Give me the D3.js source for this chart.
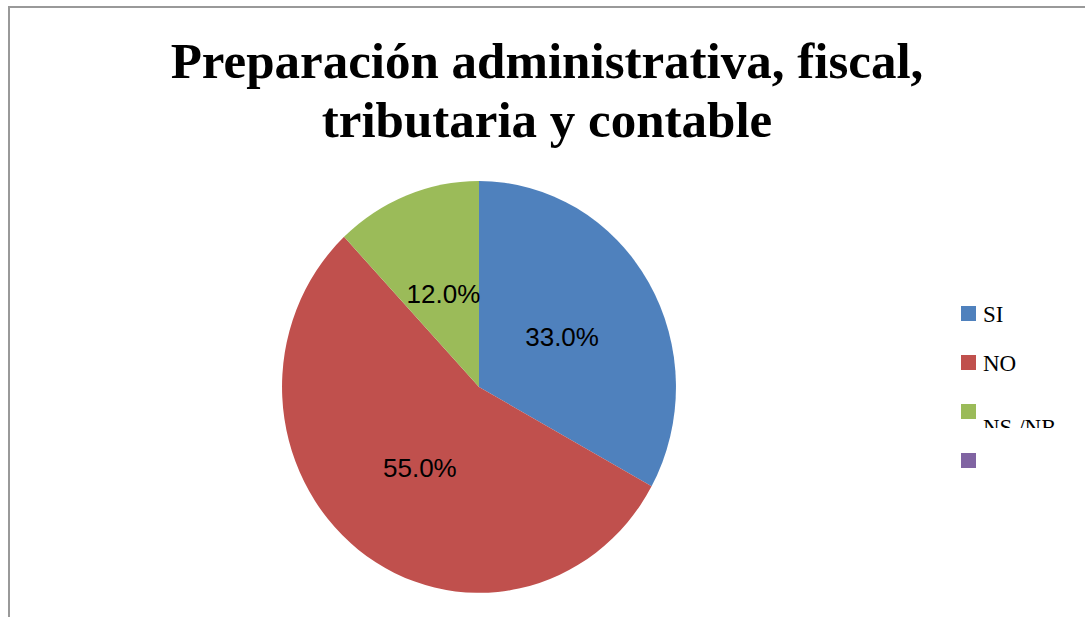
<!doctype html>
<html>
<head>
<meta charset="utf-8"/>
<style>
    html, body { margin: 0; padding: 0; background: #fff; }
    svg { display: block; }
</style>
<script src="https://d3js.org/d3.v7.min.js"></script>
</head>
<body>
<svg width="1085" height="617"></svg>
<script>
    // Chart data
    var categories = ["SI", "NO", "NS /NR", ""];
    var values = [33, 55, 12, 0];
    var colors = ["#4F81BD", "#C0504D", "#9BBB59", "#8064A2"];
    var titleLines = ["Preparación administrativa, fiscal,", "tributaria y contable"];

    var svg = d3.select("svg");

    // Chart frame (runs off right and bottom edge)
    svg.append("rect")
        .attr("x", 9).attr("y", 7)
        .attr("width", 1200).attr("height", 700)
        .attr("fill", "#fff")
        .attr("stroke", "#999").attr("stroke-width", 2);

    // Title
    svg.selectAll(".title")
        .data(titleLines).enter()
        .append("text")
        .attr("class", "title")
        .attr("x", 547)
        .attr("y", function(d, i) { return 78 + i * 59; })
        .attr("text-anchor", "middle")
        .attr("font-family", "Liberation Serif, serif")
        .attr("font-weight", "bold")
        .attr("font-size", 51)
        .text(function(d) { return d; });

    // Pie (slightly taller than wide, as in the picture)
    var cx = 479, cy = 387, rx = 197, ry = 206;
    var data = categories.map(function(c, i) { return {name: c, value: values[i], color: colors[i]}; });
    var pie = d3.pie().sort(null).value(function(d) { return d.value; });
    var arc = d3.arc().innerRadius(0).outerRadius(1);
    var arcs = pie(data).filter(function(d) { return d.data.value > 0; });

    var g = svg.append("g").attr("transform", "translate(" + cx + "," + cy + ")");
    g.selectAll("path")
        .data(arcs).enter()
        .append("path")
        .attr("transform", "scale(" + rx + "," + ry + ")")
        .attr("d", arc)
        .attr("fill", function(d) { return d.data.color; });

    var labelArc = d3.arc().innerRadius(0.49).outerRadius(0.49);
    g.selectAll(".lbl")
        .data(arcs).enter()
        .append("text")
        .attr("class", "lbl")
        .attr("x", function(d) { return labelArc.centroid(d)[0] * rx; })
        .attr("y", function(d) { return labelArc.centroid(d)[1] * ry + 10; })
        .attr("text-anchor", "middle")
        .attr("font-family", "Liberation Sans, sans-serif")
        .attr("font-size", 26)
        .attr("fill", "#000")
        .text(function(d) { return d3.format(".1f")(d.data.value) + "%"; });

    // Legend
    var legendY = d3.scalePoint().domain(d3.range(categories.length)).range([306, 453]);
    var clip = svg.append("defs").append("clipPath").attr("id", "legclip");
    clip.append("rect").attr("x", 940).attr("y", 290).attr("width", 145).attr("height", 138);

    var leg = svg.append("g");
    leg.selectAll("rect")
        .data(data).enter()
        .append("rect")
        .attr("x", 961)
        .attr("y", function(d, i) { return legendY(i); })
        .attr("width", 15).attr("height", 15)
        .attr("fill", function(d) { return d.color; });

    var legText = svg.append("g").attr("clip-path", "url(#legclip)");
    legText.selectAll("text")
        .data(data).enter()
        .append("text")
        .attr("x", 983)
        .attr("y", function(d, i) { return legendY(i) + (i === 2 ? 31 : 16); })
        .attr("font-family", "Liberation Serif, serif")
        .attr("font-size", 23)
        .attr("fill", "#000")
        .text(function(d) { return d.name; });
</script>
</body>
</html>
